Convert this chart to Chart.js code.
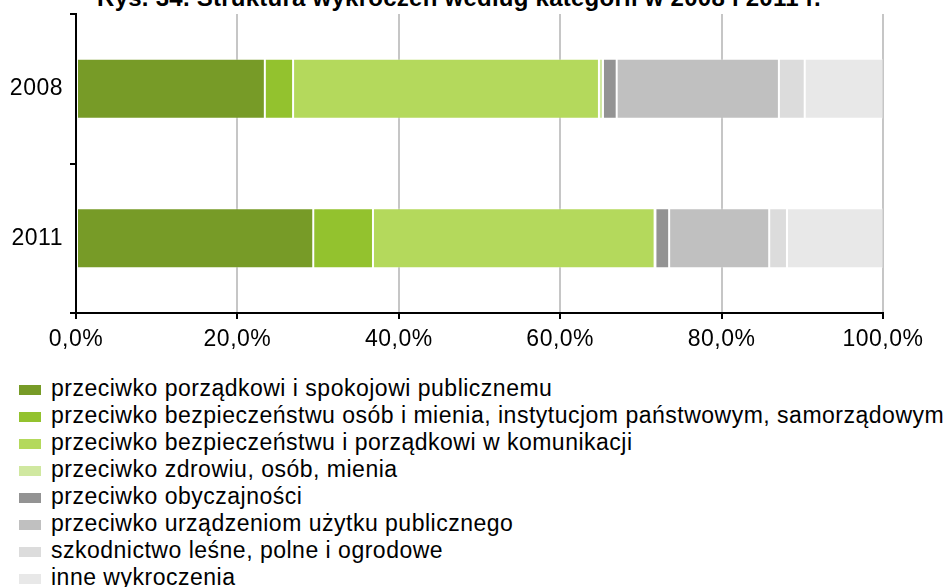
<!DOCTYPE html>
<html>
<head>
<meta charset="utf-8">
<title>Struktura wykroczeń</title>
<script src="https://cdn.jsdelivr.net/npm/chart.js@4.4.1/dist/chart.umd.min.js"></script>
<style>
  body { margin: 0; background: #fff; font-family: 'Liberation Sans', Arial, sans-serif; }
  #wrap { position: relative; width: 951px; height: 587px; overflow: hidden; }
  #title {
    position: absolute; top: -14px; left: 0; width: 918px;
    text-align: center; font-weight: bold; font-size: 24px; line-height: 24px;
    letter-spacing: 0.25px; color: #000;
  }
  #chart { position: absolute; top: 0; left: 0; }
  #legend { position: absolute; top: 375px; left: 19px; margin: 0; padding: 0; list-style: none; }
  #legend li { height: 27px; line-height: 27px; font-size: 23px; letter-spacing: 0.5px; color: #000; white-space: nowrap; }
  #legend span.box { display: inline-block; width: 22px; height: 10px; margin-right: 10px; vertical-align: 1px; }
</style>
</head>
<body>
<div id="wrap">
  <div id="title">Rys. 34. Struktura wykroczeń według kategorii w 2008 i 2011 r.</div>
  <canvas id="chart" width="951" height="370"></canvas>
  <ul id="legend"></ul>
</div>
<script>
  // years shown on the vertical axis
  const years = ['2008', '2011'];

  const categories = [
    'przeciwko porządkowi i spokojowi publicznemu',
    'przeciwko bezpieczeństwu osób i mienia, instytucjom państwowym, samorządowym',
    'przeciwko bezpieczeństwu i porządkowi w komunikacji',
    'przeciwko zdrowiu, osób, mienia',
    'przeciwko obyczajności',
    'przeciwko urządzeniom użytku publicznego',
    'szkodnictwo leśne, polne i ogrodowe',
    'inne wykroczenia',
  ];

  // share in % per category
  const share2008 = [23.4, 3.5, 37.9, 0.5, 1.7, 20.1, 3.2, 9.7];
  const share2011 = [29.4, 7.4, 34.9, 0.1, 1.7, 12.4, 2.2, 11.9];

  const xTicks = [0, 20, 40, 60, 80, 100];

  const colors = ['#779b27', '#93c22e', '#b4d95c', '#d0e8a0', '#939393', '#c0c0c0', '#dcdcdc', '#e8e8e8'];

  const datasets = categories.map((name, i) => ({
    label: name,
    data: [share2008[i], share2011[i]],
    backgroundColor: colors[i],
    borderColor: 'rgba(255,255,255,0.3)',
    borderWidth: 1,
    borderSkipped: false,
    barPercentage: 0.4,
    categoryPercentage: 1,
  }));

  const spacing = {
    id: 'spacing',
    beforeDraw: (chart) => { chart.ctx.letterSpacing = '0.5px'; },
  };

  const font = { family: "'Liberation Sans', Arial", size: 23 };

  const chart = new Chart(document.getElementById('chart'), {
    type: 'bar',
    data: { labels: years, datasets },
    plugins: [spacing],
    options: {
      indexAxis: 'y',
      responsive: false,
      animation: false,
      devicePixelRatio: 1,
      layout: { padding: { top: 14, right: 68, left: 0, bottom: 0 } },
      plugins: {
        legend: { display: false },
        tooltip: { enabled: false },
      },
      scales: {
        x: {
          stacked: true,
          min: 0,
          max: 100,
          afterBuildTicks: (scale) => { scale.ticks = xTicks.map((v) => ({ value: v })); },
          afterFit: (scale) => { scale.height = 57; },
          ticks: {
            color: '#000',
            padding: 7,
            maxRotation: 0,
            font,
            callback: (v) => v.toFixed(1).replace('.', ',') + '%',
          },
          grid: {
            color: (c) => (c.index === 0 ? 'rgba(0,0,0,0)' : '#c6c6c6'),
            lineWidth: 2,
            tickColor: '#000',
            tickLength: 6,
          },
          border: { color: '#000', width: 2 },
        },
        y: {
          stacked: true,
          afterFit: (scale) => {
            scale.width = 76;
            scale.paddingTop = 0;
            scale.paddingBottom = 0;
          },
          ticks: {
            color: '#000',
            padding: 7,
            font,
          },
          grid: {
            drawOnChartArea: false,
            offset: true,
            lineWidth: 2,
            tickColor: '#000',
            tickLength: 6,
          },
          border: { color: '#000', width: 2 },
        },
      },
    },
  });

  // legend as a plain list, one entry per row, built from the datasets
  const legend = document.getElementById('legend');
  chart.data.datasets.forEach((ds) => {
    const li = document.createElement('li');
    const box = document.createElement('span');
    box.className = 'box';
    box.style.background = ds.backgroundColor;
    li.appendChild(box);
    li.appendChild(document.createTextNode(ds.label));
    legend.appendChild(li);
  });
</script>
</body>
</html>
